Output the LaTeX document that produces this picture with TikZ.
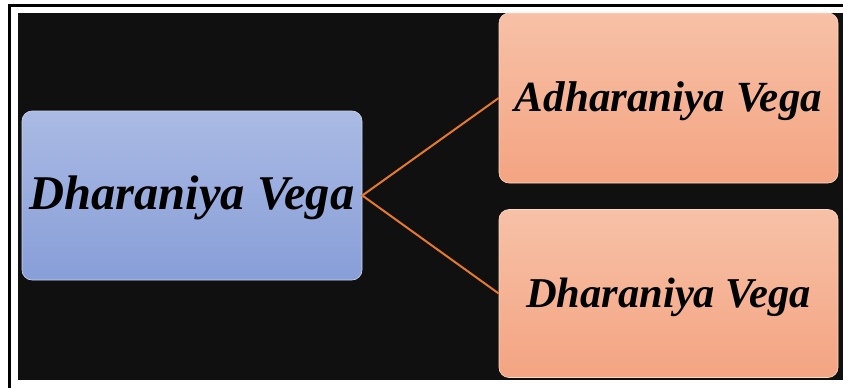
\documentclass[tikz,border=0pt]{standalone}
\usepackage{fontspec}
\setmainfont{Liberation Serif}
\definecolor{bgdark}{HTML}{101010}
\definecolor{bluetop}{HTML}{AABAE4}
\definecolor{bluebot}{HTML}{889ED8}
\definecolor{orgtop}{HTML}{F7C1A7}
\definecolor{orgbot}{HTML}{F4A482}
\definecolor{linkorange}{HTML}{E8782A}
\tikzset{
  box/.style={rectangle, rounded corners=10pt, inner sep=0pt, align=center, text=black},
  bluebox/.style={box, top color=bluetop, bottom color=bluebot, draw=bluetop!60!white, line width=0.6pt},
  orangebox/.style={box, top color=orgtop, bottom color=orgbot, draw=orgtop!60!white, line width=0.6pt},
  link/.style={draw=linkorange, line width=2pt}
}
\begin{document}
\begin{tikzpicture}[x=1pt,y=-1pt]
\useasboundingbox (0,0) rectangle (843,388);
\fill[white] (0,0) rectangle (843,388);
\fill[bgdark] (18,13) rectangle (843,380);
\draw[black, line width=3pt] (843,5) -- (9,5) -- (9,388);
\node[bluebox, minimum width=340pt, minimum height=169pt, text height=34pt, text depth=7pt,
  font=\fontsize{48.5}{54}\selectfont\bfseries\itshape] (src) at (192,195.5) {Dharaniya Vega};
\node[orangebox, minimum width=339pt, minimum height=170pt, text height=32pt, text depth=6pt,
  font=\fontsize{43}{48}\selectfont\bfseries\itshape] (top) at (668.5,98) {Adharaniya Vega};
\node[orangebox, minimum width=339pt, minimum height=168pt, text height=33pt, text depth=6pt,
  font=\fontsize{42.5}{48}\selectfont\bfseries\itshape] (bot) at (668.5,293.5) {Dharaniya Vega};
\draw[link] (top.west) -- (src.east) -- (bot.west);
\end{tikzpicture}
\end{document}
